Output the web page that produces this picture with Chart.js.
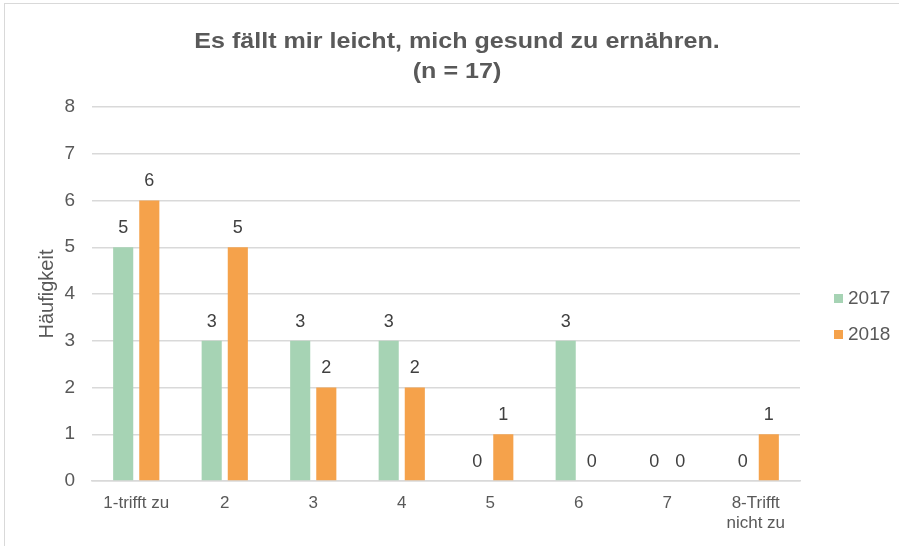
<!DOCTYPE html>
<html>
<head>
<meta charset="utf-8">
<script src="https://cdn.jsdelivr.net/npm/chart.js@4/dist/chart.umd.min.js"></script>
<style>
  html, body { margin: 0; padding: 0; background: #fff; }
  #wrap { position: relative; width: 899px; height: 546px; overflow: hidden; }
  #frame { position: absolute; left: 4px; top: 3px; width: 900px; height: 560px; border: 1px solid #d9d9d9; box-sizing: border-box; }
  canvas { position: absolute; left: 0; top: 0; }
  #title { position: absolute; left: 157px; width: 600px; top: 26px; text-align: center;
           font: bold 22px "Liberation Sans", Arial, sans-serif; line-height: 30px; color: #595959;
           transform: scaleX(1.14); }
  #legend { position: absolute; left: 834px; top: 286px; font: 19px "Liberation Sans", Arial, sans-serif; color: #595959; }
  #legend div { height: 36px; line-height: 24px; }
  #legend span { display: inline-block; width: 9px; height: 9px; margin-right: 5px; vertical-align: 1px; }
</style>
</head>
<body>
<div id="wrap">
  <div id="frame"></div>
  <canvas id="myChart" width="899" height="546"></canvas>
  <div id="title">Es fällt mir leicht, mich gesund zu ernähren.<br>(n = 17)</div>
  <div id="legend"></div>
</div>
<script>
const categories = ['1-trifft zu', '2', '3', '4', '5', '6', '7', ['8-Trifft', 'nicht zu']];
const values2017 = [5, 3, 3, 3, 0, 3, 0, 0];
const values2018 = [6, 5, 2, 2, 1, 0, 0, 1];
const seriesNames = ['2017', '2018'];
const seriesColors = ['#A6D3B4', '#F5A24B'];

const FONT = '"Liberation Sans", Arial, sans-serif';

/* ---------- DATA LABELS ---------- */
const valueLabels = {
    id: 'valueLabels',
    afterDatasetsDraw(chart) {
        const ctx = chart.ctx;
        ctx.save();
        ctx.font = '18px ' + FONT;
        ctx.fillStyle = '#404040';
        ctx.textAlign = 'center';
        ctx.textBaseline = 'middle';
        chart.data.datasets.forEach((ds, i) => {
            chart.getDatasetMeta(i).data.forEach((bar, j) => {
                ctx.fillText(ds.data[j], bar.x, bar.y - 19);
            });
        });
        ctx.restore();
    }
};

const ctx = document.getElementById('myChart').getContext('2d');
new Chart(ctx, {
    type: 'bar',
    data: {
        labels: categories,
        datasets: [{
            label: seriesNames[0],
            data: values2017,
            backgroundColor: seriesColors[0]
        }, {
            label: seriesNames[1],
            data: values2018,
            backgroundColor: seriesColors[1]
        }]
    },
    options: {
        responsive: false,
        animation: false,
        categoryPercentage: 0.59,
        barPercentage: 0.77,
        layout: { padding: { left: 35, right: 99, top: 107, bottom: 0 } },
        plugins: {
            legend: { display: false },
            tooltip: { enabled: false },
            title: { display: false }
        },
        scales: {
            y: {
                min: 0,
                max: 8,
                afterFit: s => { s.width = 57; },
                ticks: {
                    stepSize: 1,
                    color: '#595959',
                    padding: 17,
                    font: { family: FONT, size: 19 }
                },
                grid: { color: '#d9d9d9', lineWidth: 1.5, drawTicks: false },
                border: { display: false },
                title: {
                    display: true,
                    text: 'Häufigkeit',
                    color: '#595959',
                    padding: 0,
                    font: { family: FONT, size: 20 }
                }
            },
            x: {
                afterFit: s => { s.height = 65; },
                ticks: {
                    color: '#595959',
                    maxRotation: 0,
                    padding: 12,
                    font: { family: FONT, size: 17 }
                },
                grid: { display: false, drawTicks: false },
                border: { color: '#d9d9d9', width: 1.5 }
            }
        }
    },
    plugins: [valueLabels]
});

/* ---------- LEGEND ---------- */
document.getElementById('legend').innerHTML = seriesNames.map((n, i) =>
    '<div><span style="background:' + seriesColors[i] + '"></span>' + n + '</div>').join('');
</script>
</body>
</html>
